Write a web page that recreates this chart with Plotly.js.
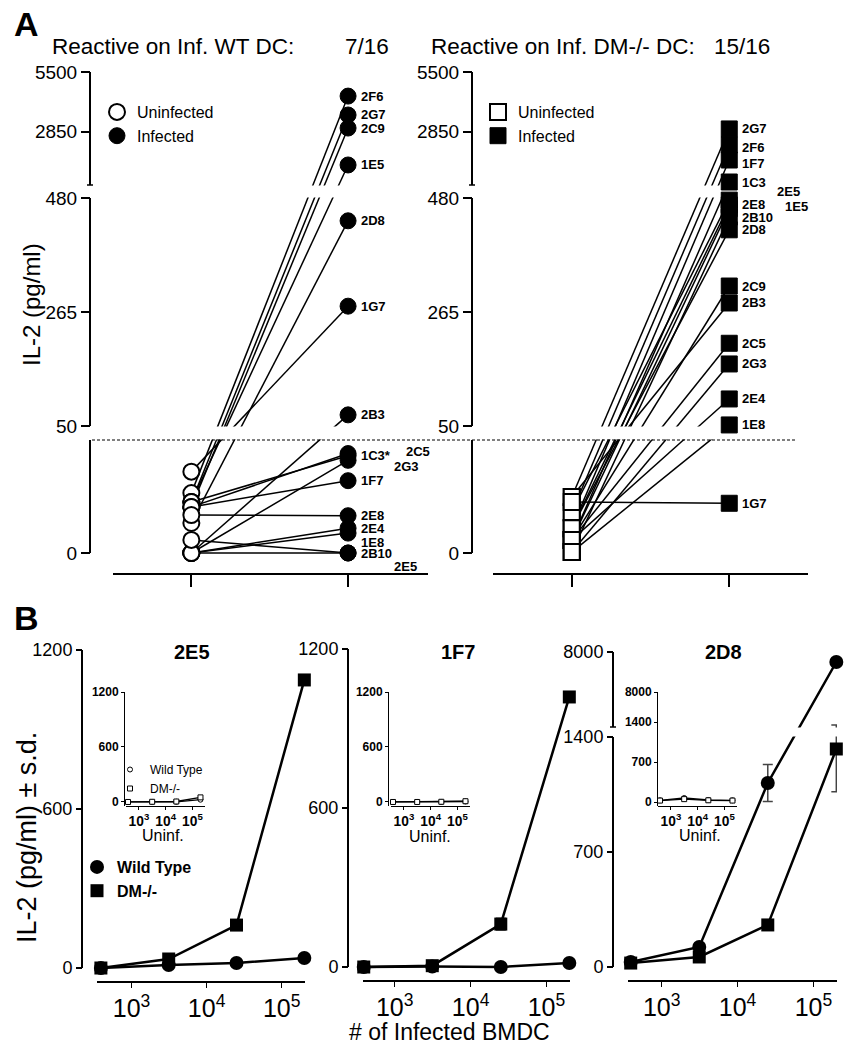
<!DOCTYPE html>
<html><head><meta charset="utf-8">
<script src="https://cdn.plot.ly/plotly-3.0.1.min.js"></script>
<style>html,body{margin:0;padding:0;background:#fff}#chart{width:853px;height:1050px}</style>
</head><body><div id="chart"></div>
<script>
// ================= DATA =================
// Panel A: IL-2 (pg/ml) per T-cell clone, uninfected vs infected DC
const conditions = ['Uninfected', 'Infected'];
const clonesWT = ['2F6','2G7','2C9','1E5','2D8','1G7','2B3','1C3','2C5','2G3','1F7','2E8','2E4','1E8','2B10','2E5'];
const wtUninf  = [26.5, 22.6, 20.4, 22.6, 13.3, 36, 0, 22.6, 20.4, 0, 20.4, 16.8, 0, 0, 0, 5.8];
const wtInf    = [4430, 3590, 3010, 1370, 437, 276, 71, 43, 44, 41, 32, 16.5, 11, 8.8, 0, 0];

const clonesDM = ['2G7','2F6','1F7','1C3','2E5','2E8','1E5','2B10','2D8','2C9','2B3','2C5','2G3','2E4','1E8','1G7'];
const dmUninf  = [24.8, 18, 11, 5.8, 18, 11, 5.8, 0.4, 11, 5.8, 24.8, 5.8, 0.4, 5.8, 0.4, 22.6];
const dmInf    = [2970, 2260, 1590, 613, 476, 467, 460, 444, 420, 314, 282, 206, 167, 101, 52, 22];

const tickValsA = [0, 50, 265, 480, 2850, 5500];
const reactiveWT = '7/16';
const reactiveDM = '15/16';

// Panel B: IL-2 vs number of infected BMDC
const cells = [390.625, 3125, 25000, 200000];
const e5_WT = [0, 11, 19, 38];
const e5_DM = [0, 34, 162, 1087];
const f7_WT = [0, 2, 0, 15];
const f7_DM = [0, 5, 162, 1019];
const f7_DM_sd = [0, 4, 22, 20];
const d8_WT = [30, 122, 1120, 7120];
const d8_WT_sd = [0, 0, 113, 0];
const d8_DM = [24, 61, 256, 1327];
const d8_DM_sd = [0, 0, 0, 260];
// insets: uninfected BMDC
const e5u_WT = [0, 0, 2, 25];
const e5u_DM = [0, 2, 5, 50];
const f7u_WT = [0, 0, 0, 5];
const f7u_DM = [0, 0, 2, 8];
const d8u_WT = [30, 70, 35, 30];
const d8u_DM = [25, 50, 30, 25];
const tickVals1200 = [0, 600, 1200];
const tickVals8000 = [0, 700, 1400, 8000];

// ================= HELPERS =================
const W = 853, H = 1050;
const fx = px => px / W;
const fy = px => 1 - px / H;
const FONT = 'Liberation Sans, Arial, Helvetica, sans-serif';

// broken-axis scale: value -> display units
function makeScale(segs) {
  return v => {
    const g = segs.find(s => s.open ? v < s.v1 : v <= s.v1) || segs[segs.length - 1];
    return g.d0 + (v - g.v0) / (g.v1 - g.v0) * (g.d1 - g.d0);
  };
}
const DA = makeScale([{v0:0, v1:50, d0:0, d1:113, open:true}, {v0:50, v1:480, d0:127, d1:355}, {v0:480, v1:5500, d0:368, d1:481}]);
const DB = makeScale([{v0:0, v1:1400, d0:0, d1:230}, {v0:1400, v1:8000, d0:240, d1:315}]);
const DI = makeScale([{v0:0, v1:1400, d0:0, d1:80}, {v0:1400, v1:8000, d0:80, d1:110}]);
const ID = v => v;

const traces = [];
function band(xa, ya, xr, d0, d1) {
  return {type:'scatter', mode:'lines', x:[xr[0], xr[1], xr[1], xr[0], xr[0]], y:[d0, d0, d1, d1, d0],
    xaxis:xa, yaxis:ya, fill:'toself', fillcolor:'white', line:{width:0, color:'white'},
    showlegend:false, hoverinfo:'skip'};
}

// ---- Panel A ----
function addPanelA(xa, ya, uninf, inf, symbol, legendId) {
  const x = [], y = [];
  uninf.forEach((u, i) => { x.push(0, 1, null); y.push(DA(u), DA(inf[i]), null); });
  traces.push({type:'scatter', mode:'lines', x, y, xaxis:xa, yaxis:ya,
    line:{color:'black', width:1.5}, showlegend:false, hoverinfo:'skip'});
  traces.push(band(xa, ya, [-0.6, 1.6], 113.6, 126.5));
  traces.push(band(xa, ya, [-0.6, 1.6], 355.5, 367.5));
  traces.push({type:'scatter', mode:'markers', x:uninf.map(() => 0), y:uninf.map(DA), xaxis:xa, yaxis:ya,
    name:conditions[0], legend:legendId, cliponaxis:false, hoverinfo:'y',
    marker:{symbol, size:16, color:'white', line:{color:'black', width:2}}});
  traces.push({type:'scatter', mode:'markers', x:inf.map(() => 1), y:inf.map(DA), xaxis:xa, yaxis:ya,
    name:conditions[1], legend:legendId, cliponaxis:false, hoverinfo:'y',
    marker:{symbol, size:16, color:'black', line:{color:'black', width:1}}});
}
addPanelA('x', 'y', wtUninf, wtInf, 'circle', 'legend');
addPanelA('x2', 'y2', dmUninf, dmInf, 'square', 'legend2');

// ---- Panel B ----
function errs(ys, sds, D) {
  return {type:'data', symmetric:false, color:'#444', thickness:1.5, width:5,
    array: ys.map((v, i) => D(v + sds[i]) - D(v)),
    arrayminus: ys.map((v, i) => D(v) - D(v - sds[i]))};
}
function addPanelB(xa, ya, D, sets, bandY, inset) {
  const lw = inset ? 1.3 : 2.5;
  sets.forEach(s => {
    const t = {type:'scatter', mode:'lines', x:cells, y:s.y.map(D), xaxis:xa, yaxis:ya, cliponaxis:false,
      line:{color:'black', width:lw}, showlegend:false, hoverinfo:'skip'};
    if (s.sd) t.error_y = errs(s.y, s.sd, D);
    traces.push(t);
  });
  if (bandY) traces.push(band(xa, ya, [300, 300000], bandY[0], bandY[1]));
  sets.forEach(s => {
    traces.push({type:'scatter', mode:'markers', x:cells, y:s.y.map(D), xaxis:xa, yaxis:ya,
      name:s.name, legend:s.legend, showlegend:!!s.legend, cliponaxis:false,
      marker: inset
        ? {symbol:s.symbol, size:5, color:'white', line:{color:'black', width:1}}
        : {symbol:s.symbol, size:s.symbol === 'square' ? 13 : 14, color:'black'}});
  });
}
addPanelB('x3', 'y3', ID, [
  {y:e5_WT, symbol:'circle', name:'Wild Type', legend:'legend3'},
  {y:e5_DM, symbol:'square', name:'DM-/-', legend:'legend3'}]);
addPanelB('x4', 'y4', ID, [
  {y:f7_WT, symbol:'circle'},
  {y:f7_DM, sd:f7_DM_sd, symbol:'square'}]);
addPanelB('x5', 'y5', DB, [
  {y:d8_WT, sd:d8_WT_sd, symbol:'circle'},
  {y:d8_DM, sd:d8_DM_sd, symbol:'square'}], [230.6, 239.5]);
addPanelB('x6', 'y6', ID, [
  {y:e5u_WT, symbol:'circle', name:'Wild Type', legend:'legend4'},
  {y:e5u_DM, symbol:'square', name:'DM-/-', legend:'legend4'}], null, true);
addPanelB('x7', 'y7', ID, [
  {y:f7u_WT, symbol:'circle'}, {y:f7u_DM, symbol:'square'}], null, true);
addPanelB('x8', 'y8', DI, [
  {y:d8u_WT, symbol:'circle'}, {y:d8u_DM, symbol:'square'}], null, true);

// ================= LAYOUT =================
const base = {showgrid:false, zeroline:false, linecolor:'black', tickcolor:'black', fixedrange:true};
const tf = (size, bold) => ({family:FONT, size, color:'black', weight: bold ? 'bold' : 'normal'});

function yA(pos) {
  return {...base, domain:[fy(573), fy(72)], range:[-20, 481], anchor:'free', position:fx(pos),
    showline:false, ticks:'outside', ticklen:9, tickwidth:2,
    tickvals:tickValsA.map(DA), ticktext:tickValsA.map(String), tickfont:tf(19)};
}
function xA(d0, d1, ya, r1) {
  return {...base, domain:[fx(d0), fx(d1)], range:[-0.5, r1], anchor:ya, showline:true, linewidth:2,
    ticks:'outside', ticklen:12, tickwidth:2, tickvals:[0, 1], showticklabels:false};
}
function xB(d0, d1, ya, r) {
  return {...base, type:'log', domain:[fx(d0), fx(d1)], range:r, anchor:ya, showline:true, linewidth:2,
    ticks:'outside', ticklen:5, tickwidth:1.5, dtick:1, exponentformat:'power', tickfont:tf(20)};
}
function yB(bottom, top, pos, range, vals, D) {
  return {...base, domain:[fy(bottom), fy(top)], range, anchor:'free', position:fx(pos), showline:false,
    ticks:'outside', ticklen:6, tickwidth:2, tickvals:vals.map(D), ticktext:vals.map(String), tickfont:tf(18)};
}
function xI(d0, d1, ya) {
  return {...base, type:'log', domain:[fx(d0), fx(d1)], range:[2.516, 5.47], anchor:ya, showline:true, linewidth:1.3,
    ticks:'outside', ticklen:3, tickwidth:1, dtick:1, exponentformat:'power', tickfont:tf(11, true)};
}
function yI(pos, range, vals, D) {
  return {...base, domain:[fy(806), fy(692)], range, anchor:'free', position:fx(pos), showline:true, linewidth:1.3,
    ticks:'outside', ticklen:3, tickwidth:1, tickvals:vals.map(D), ticktext:vals.map(String), tickfont:tf(12, true)};
}

const shapes = [];
function seg(xpx, yref, d0, d1, w) {
  shapes.push({type:'line', xref:'paper', x0:fx(xpx), x1:fx(xpx), yref, y0:d0, y1:d1, line:{color:'black', width:w}});
}
function cap(xpx, yref, d, w) {
  shapes.push({type:'line', xref:'paper', x0:fx(xpx - 3), x1:fx(xpx + 3), yref, y0:d, y1:d, line:{color:'black', width:w}});
}
[[90, 'y'], [472, 'y2']].forEach(([xp, yr]) => {
  seg(xp, yr, DA(0), 113, 2); seg(xp, yr, DA(50), DA(480), 2); seg(xp, yr, 368, DA(5500), 2); cap(xp, yr, 368, 1.5);
});
shapes.push({type:'line', xref:'paper', x0:fx(92), x1:fx(797), yref:'y', y0:113, y1:113,
  line:{color:'black', width:1, dash:'3px,2px'}});
seg(82, 'y3', 0, 1200, 2);
seg(348, 'y4', 0, 1200, 2);
seg(613, 'y5', DB(0), DB(1400), 2); seg(613, 'y5', 240, DB(8000), 2); cap(613, 'y5', 240, 1.5);

const annotations = [];
function txt(text, xpx, ypx, size, opts) {
  annotations.push(Object.assign({text, xref:'paper', yref:'paper', x:fx(xpx), y:fy(ypx), showarrow:false,
    xanchor:'left', yanchor:'middle', font:tf(size)}, opts || {}));
}
txt('A', 12, 24, 34, {font:tf(34, true)});
txt('B', 12, 618, 34, {font:tf(34, true)});
txt('Reactive on Inf. WT DC:', 50, 46, 22.5);
txt(reactiveWT, 343, 46, 22.5);
txt('Reactive on Inf. DM-/- DC:', 429, 46, 22.5);
txt(reactiveDM, 712, 46, 22.5);
txt('IL-2 (pg/ml)', 31, 305, 24, {textangle:-90, xanchor:'center'});
txt('IL-2 (pg/ml) ± s.d.', 27, 838, 27, {textangle:-90, xanchor:'center'});
txt('# of Infected BMDC', 450, 1032, 23, {xanchor:'center'});
txt('2E5', 192, 652, 20, {xanchor:'center', font:tf(20, true)});
txt('1F7', 458, 652, 20, {xanchor:'center', font:tf(20, true)});
txt('2D8', 723, 652, 20, {xanchor:'center', font:tf(20, true)});
txt('Uninf.', 163, 835, 16, {xanchor:'center'});
txt('Uninf.', 430, 836, 16, {xanchor:'center'});
txt('Uninf.', 700, 835, 16, {xanchor:'center'});

// clone labels next to infected points
const nudgeWT = {'2C5':[45, 2], '2G3':[33, -6], '1E8':[0, -9], '2E5':[33, -13]};
const nudgeDM = {'2F6':[0, -3], '1F7':[0, -3], '2E5':[35, 9], '1E5':[43, 2]};
const labelTextWT = {'1C3':'1C3*'};
function labels(clones, inf, xa, ya, nudge, textMap) {
  clones.forEach((c, i) => {
    const n = nudge[c] || [0, 0];
    annotations.push({text:(textMap && textMap[c]) || c, xref:xa, yref:ya, x:1, y:DA(inf[i]), showarrow:false,
      xanchor:'left', yanchor:'middle', xshift:11 + n[0], yshift:n[1], font:tf(13, true)});
  });
}
labels(clonesWT, wtInf, 'x', 'y', nudgeWT, labelTextWT);
labels(clonesDM, dmInf, 'x2', 'y2', nudgeDM);

const legendBase = {bgcolor:'rgba(0,0,0,0)', xanchor:'left', yanchor:'top', tracegroupgap:0};
const layout = {
  width:W, height:H, margin:{l:0, r:0, t:0, b:0}, paper_bgcolor:'white', plot_bgcolor:'rgba(0,0,0,0)',
  font:{family:FONT, color:'black'}, showlegend:true, hovermode:false,
  xaxis: xA(113, 428, 'y', 1.51), yaxis: yA(90),
  xaxis2: xA(493, 808, 'y2', 1.5), yaxis2: yA(472),
  xaxis3: xB(97, 305, 'y3', [2.54, 5.31]), yaxis3: yB(981, 650, 82, [-49, 1200], tickVals1200, ID),
  xaxis4: xB(363, 570, 'y4', [2.582, 5.31]), yaxis4: yB(980, 649, 348, [-49, 1200], tickVals1200, ID),
  xaxis5: xB(628, 837, 'y5', [2.556, 5.31]), yaxis5: yB(980, 652, 613, [-13, 315], tickVals8000, DB),
  xaxis6: xI(126, 205, 'y6'), yaxis6: yI(124, [-44, 1200], tickVals1200, ID),
  xaxis7: xI(391, 470, 'y7'), yaxis7: yI(388, [-44, 1200], tickVals1200, ID),
  xaxis8: xI(658, 737, 'y8'), yaxis8: yI(657, [-4, 110], tickVals8000, DI),
  legend:  {...legendBase, x:fx(97), y:fy(95), font:tf(16)},
  legend2: {...legendBase, x:fx(478), y:fy(95), font:tf(16)},
  legend3: {...legendBase, x:fx(77), y:fy(850), font:tf(16, true)},
  legend4: {...legendBase, x:fx(110), y:fy(755), font:tf(12)},
  shapes, annotations
};
Plotly.newPlot('chart', traces, layout, {displayModeBar:false, staticPlot:true});
</script>
</body></html>
